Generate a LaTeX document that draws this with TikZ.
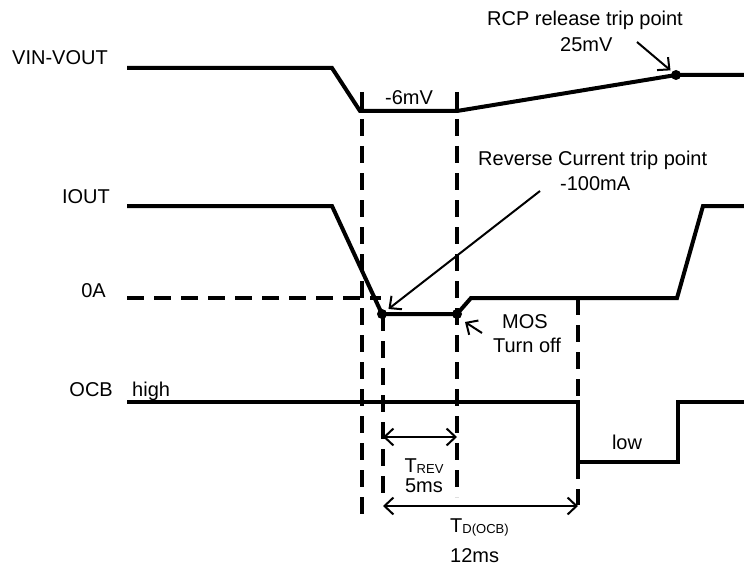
\documentclass[tikz,border=0pt]{standalone}
\usepackage{fontspec}
\setmainfont{Liberation Sans}
\usetikzlibrary{arrows.meta}
\begin{document}
\begin{tikzpicture}[x=1pt,y=-1pt,
  wave/.style={line width=4pt, line join=miter},
  guide/.style={line width=3.2pt, dash pattern=on 17pt off 10pt},
  barb/.tip={Straight Barb[length=9pt,width=17pt,line width=2pt]},
  pointer/.style={line width=2pt, -barb},
  dimline/.style={line width=2pt, barb-barb},
  lbl/.style={font=\fontsize{20}{20}\selectfont, inner sep=0pt},
  dotnode/.style={circle, fill, inner sep=0pt, minimum size=10pt}]
\useasboundingbox (0,0) rectangle (744,567);

% signal labels
\node[lbl, anchor=base east] (lvin) at (108,65) {VIN-VOUT};
\node[lbl, anchor=base east] (liout) at (110,203) {IOUT};
\node[lbl, anchor=base east] (l0a) at (106,297) {0A};
\node[lbl, anchor=base east] (locb) at (113,396) {OCB};
\node[lbl, anchor=base west] (lhigh) at (132,396) {high};
\node[lbl, anchor=base] (llow) at (627,449) {low};
\node[lbl, anchor=base] (l6mv) at (409,105) {-6mV};

% annotations
\node[lbl, anchor=base west] (rcp1) at (487,26) {RCP release trip point};
\node[lbl, anchor=base west] (rcp2) at (560,52) {25mV};
\node[lbl, anchor=base west] (rev1) at (478,165) {Reverse Current trip point};
\node[lbl, anchor=base west] (rev2) at (560,190) {-100mA};
\node[lbl, anchor=base] (mos1) at (525,328) {MOS};
\node[lbl, anchor=base] (mos2) at (527,352) {Turn off};
\node[lbl, anchor=base, align=center, font=\fontsize{20}{19.5}\selectfont] (trev) at (424,492)
  {T\raisebox{-1pt}{\fontsize{13}{13}\selectfont REV}\\5ms};
\node[lbl, anchor=base west] (tdocb) at (450,532) {T\raisebox{-1pt}{\fontsize{13}{13}\selectfont D(OCB)}};
\node[lbl, anchor=base west] (t12) at (450,562) {12ms};

% waveforms
\draw[wave] (127,68) -- (332,68) -- (360,111) -- (457,111) -- (676,75) -- (744,75);
\draw[wave] (127,206) -- (332,206) -- (382,314) -- (457,314) -- (471,298) -- (677,298) -- (703,206) -- (744,206);
\draw[wave] (127,402) -- (578,402) -- (578,462) -- (678,462) -- (678,402) -- (744,402);

% dots
\node[dotnode] (drev) at (382,314) {};
\node[dotnode] (dmos) at (457,314) {};
\node[dotnode] (drcp) at (676,75) {};

% guides
\draw[guide] (127,298) -- (381,298);
\draw[guide] (362,92) -- (362,518);
\draw[guide] (383,314) -- (383,497);
\draw[guide] (457,92) -- (457,497);
\draw[guide] (578,298) -- (578,402);
\draw[guide] (578,462) -- (578,505);

% pointers
\coordinate (prcp) at (637,42);
\coordinate (prev) at (540,191);
\coordinate (pmos) at (482,333);
\draw[pointer, shorten >=2pt] (prcp) -- (drcp);
\draw[pointer, shorten >=3pt] (prev) -- (drev);
\draw[pointer] (pmos) -- (465,322);

% dimensions
\coordinate (ta) at (383,437);
\coordinate (tb) at (457,437);
\coordinate (da) at (383,506);
\coordinate (db) at (578,506);
\draw[dimline] (ta) -- (tb);
\draw[dimline] (da) -- (db);
\end{tikzpicture}
\end{document}
